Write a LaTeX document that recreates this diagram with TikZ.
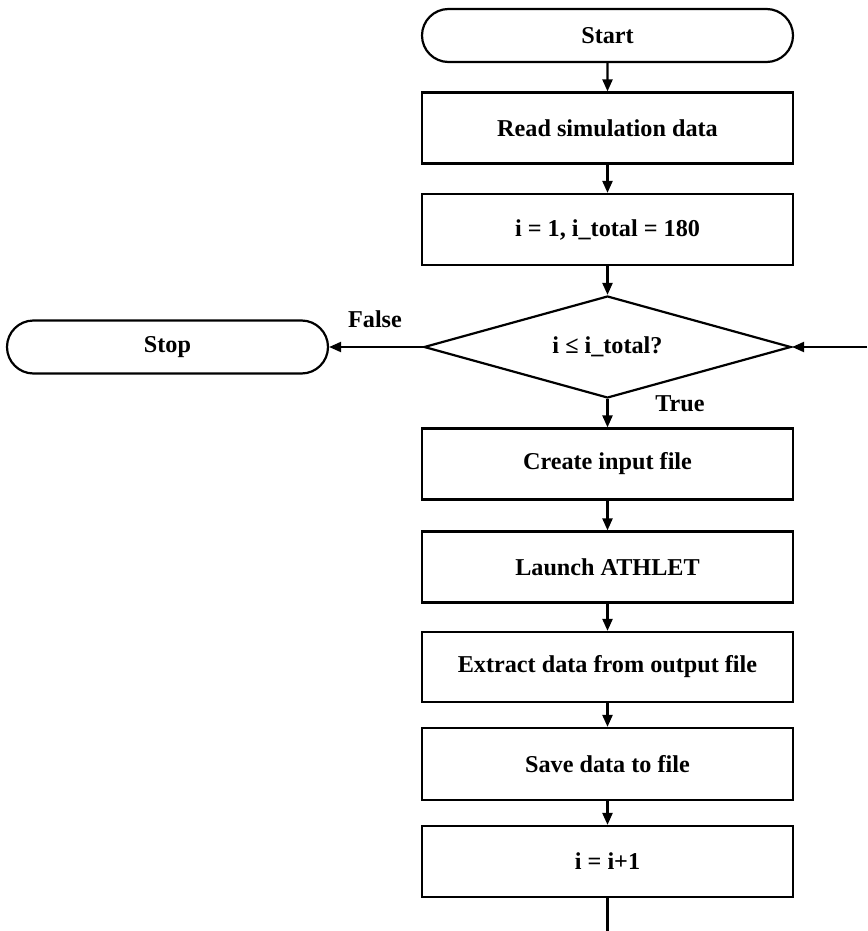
\documentclass[tikz,border=0pt]{standalone}
\usepackage{fontspec}
\setmainfont{Liberation Serif}
\usetikzlibrary{shapes.geometric,shapes.misc,arrows.meta}
\begin{document}
\begin{tikzpicture}[x=1pt,y=-1pt,
  every node/.style={font=\fontsize{24.2}{28}\selectfont\bfseries},
  procbox/.style={draw,line width=2.2pt,rectangle,minimum width=371pt,minimum height=71pt,inner sep=0pt},
  term/.style={draw,line width=2.2pt,rounded rectangle,minimum height=53pt,inner sep=0pt},
  decis/.style={draw,line width=2.2pt,diamond,aspect=3.6,minimum width=367pt,minimum height=102pt,inner sep=0pt},
  conn/.style={line width=2.2pt,-{Triangle[length=12pt,width=10pt]}},
  lbl/.style={inner sep=0pt}]
\useasboundingbox (0,0) rectangle (867,931);
\node[term,minimum width=371pt] (start) at (607.5,35.5) {Start};
\node[procbox] (read) at (607.5,128) {Read simulation data};
\node[procbox] (init) at (607.5,229.5) {i = 1, i\_total = 180};
\node[decis] (dec) at (607.5,347) {i ≤ i\_total?};
\node[term,minimum width=321pt] (stop) at (167.5,347) {Stop};
\node[procbox] (create) at (607.5,464) {Create input file};
\node[procbox] (launch) at (607.5,567) {Launch ATHLET};
\node[procbox,minimum height=70pt] (extract) at (607.5,667) {Extract data from output file};
\node[procbox,minimum height=72pt] (save) at (607.5,764) {Save data to file};
\node[procbox] (inc) at (607.5,861.5) {i = i+1};
\coordinate (botend) at (607.5,931);
\coordinate (rightend) at (867,347);
\draw[conn] (start) -- (read);
\draw[conn] (read) -- (init);
\draw[conn] (init) -- (dec);
\draw[conn] (dec.west) -- (stop.east);
\draw[conn] (dec.south) -- (create.north);
\draw[conn] (create) -- (launch);
\draw[conn] (launch) -- (extract);
\draw[conn] (extract) -- (save);
\draw[conn] (save) -- (inc);
\draw[line width=2.2pt] (inc.south) -- (botend);
\draw[conn] (rightend) -- (dec.east);
\node[lbl] (false) at (375,319) {False};
\node[lbl] (true) at (680,404) {True};
\end{tikzpicture}
\end{document}
